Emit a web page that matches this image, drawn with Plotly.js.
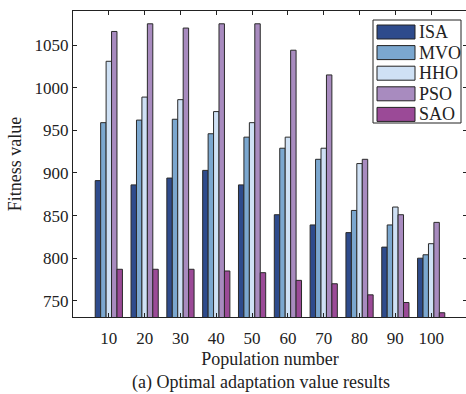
<!DOCTYPE html>
<html>
<head>
<meta charset="utf-8">
<script src="https://cdn.plot.ly/plotly-3.0.1.min.js"></script>
<style>
html,body{margin:0;padding:0;background:#fff;overflow:hidden;}
#chart{width:468px;height:394px;}
</style>
</head>
<body>
<div id="chart"></div>
<script>
const populations = [10, 20, 30, 40, 50, 60, 70, 80, 90, 100];
const seriesNames = ['ISA', 'MVO', 'HHO', 'PSO', 'SAO'];
const ISA = [891, 886, 894, 903, 886, 851, 839, 830, 813, 800];
const MVO = [959, 962, 963, 946, 942, 929, 916, 856, 839, 804];
const HHO = [1031, 989, 986, 972, 959, 942, 929, 911, 860, 817];
const PSO = [1066, 1075, 1070, 1075, 1075, 1044, 1015, 916, 851, 842];
const SAO = [787, 787, 787, 785, 783, 774, 770, 757, 748, 736];
const seriesValues = [ISA, MVO, HHO, PSO, SAO];
const seriesColors = ['#2e4b8c', '#7ba7cf', '#cfe1f5', '#a88bbf', '#9b4a97'];

const W = 468, H = 394, L = 73, R = 1, T = 11, B = 77;
const pw = W - L - R, ph = H - T - B;
const px = v => (v - L) / pw;
const py = v => (H - B - v) / ph;

const FAM = 'Liberation Serif';
const mk = s => ({family: FAM, size: s, color: '#222'});

const traces = seriesNames.map((n, i) => ({
  type: 'bar', name: n, x: populations, y: seriesValues[i],
  marker: {color: seriesColors[i], line: {color: '#2a2a2a', width: 1}},
  showlegend: false
}));

const shapes = [{type: 'rect', xref: 'paper', yref: 'paper',
  x0: px(373), x1: px(461), y0: py(123), y1: py(20),
  line: {color: '#222', width: 1}, fillcolor: '#fff'}];
const annotations = [];
seriesNames.forEach((n, i) => {
  const top = 25 + i * 20.6;
  shapes.push({type: 'rect', xref: 'paper', yref: 'paper',
    x0: px(377), x1: px(415), y0: py(top + 14), y1: py(top),
    line: {color: '#222', width: 1}, fillcolor: seriesColors[i]});
  annotations.push({xref: 'paper', yref: 'paper', x: px(417), y: py(top + 7),
    xanchor: 'left', yanchor: 'middle', showarrow: false, text: n,
    font: mk(18)});
});
annotations.push({xref: 'paper', yref: 'paper', x: px(261), y: py(382),
  xanchor: 'center', yanchor: 'middle', showarrow: false,
  text: '(a) Optimal adaptation value results', font: mk(18)});

const layout = {
  width: W, height: H,
  margin: {l: L, r: R, t: T, b: B, pad: 0},
  paper_bgcolor: '#fff', plot_bgcolor: '#fff',
  barmode: 'group', bargap: 0.24, bargroupgap: 0,
  font: mk(16),
  xaxis: {
    range: [0, 110], tickmode: 'array', tickvals: populations, ticktext: populations.map(String),
    ticks: 'inside', ticklen: 4, tickcolor: '#222', showline: true, linecolor: '#222', linewidth: 1,
    mirror: 'ticks', showgrid: false, zeroline: false,
    tickfont: mk(17), ticklabelstandoff: 6,
    title: {text: 'Population number', font: mk(18), standoff: 4}
  },
  yaxis: {
    range: [731, 1090], tickvals: [750, 800, 850, 900, 950, 1000, 1050],
    ticks: 'inside', ticklen: 4, tickcolor: '#222', showline: true, linecolor: '#222', linewidth: 1,
    mirror: 'ticks', showgrid: false, zeroline: false,
    tickfont: mk(17),
    title: {text: 'Fitness value', font: mk(18), standoff: 8}
  },
  shapes: shapes, annotations: annotations
};

Plotly.newPlot('chart', traces, layout, {displayModeBar: false, staticPlot: true});
</script>
</body>
</html>
